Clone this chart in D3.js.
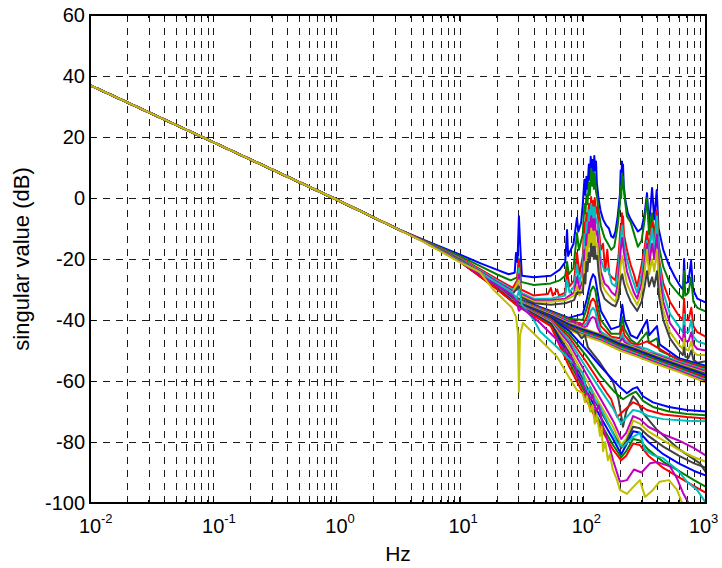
<!DOCTYPE html>
<html>
<head>
<meta charset="utf-8">
<script src="https://cdn.jsdelivr.net/npm/d3@7"></script>
<style>
  body { margin: 0; background: #fff; }
  text { font-family: "Liberation Sans", Arial, sans-serif; fill: #000; }
</style>
</head>
<body>
<svg id="chart" width="722" height="568"></svg>
<script>
// singular values (dB) vs frequency (Hz)
const trunk = [[0.01, 37], [0.1, 18.3], [1, -0.5], [3, -9.8]];

const sv01 = [[5,-13.6],[10,-18.5],[15,-21.5],[20,-23.5],[25,-25],[28,-24.5],[28.7,-18],[29.5,-21],[30.3,-6],[30.9,-14],[32,-25.5],[40,-26],[55,-25.5],[65,-23.5],[72,-21],[74.5,-10.5],[76,-19],[84,-15],[89.7,-6.5],[92,-11],[97,-8],[100,-2],[103,6],[105,1],[107,7],[109,3],[112,11],[114,6],[116,13.5],[118,8],[120,12.5],[122,7],[124,13.8],[126,9],[128,12],[130,5],[134,0],[139,-4],[146,-7],[155,-9],[163,-10],[170,-12.5],[177,-13],[184,-11],[192,-6],[200,1],[203,9],[205,4],[208,12],[210,7],[212,11],[215,4],[222,-1],[232,-5],[245,-7],[262,-9],[280,-11],[300,-10],[318,-5],[332,1.6],[345,-9],[365,3.3],[380,-7],[398,2.6],[412,-10],[450,-17],[500,-22],[560,-26],[620,-29],[652,-30],[664,-20],[676,-28],[720,-27.5],[757,-20.6],[785,-30],[850,-33],[1000,-34.3]];
const sv02 = [[5,-13.7],[10,-19],[15,-22.5],[20,-25],[26,-27],[29.3,-26],[30.3,-20],[31.5,-27.5],[40,-28.5],[55,-28],[65,-27],[72,-25.5],[74.5,-21],[77,-25],[84,-23],[89.7,-11.5],[93,-17],[100,-12],[103,-2],[105,-5],[107,1],[109,-2],[112,5],[114,1],[117,9.6],[119,4],[121,8.5],[123,3],[125,8],[128,2],[131,0],[133,-3],[140,-9],[150,-13],[160,-15],[170,-17],[180,-16],[192,-9],[200,-2],[203,4],[205,0],[208,8],[210,3],[212,7],[216,2],[228,-6],[245,-8],[262,-12],[280,-16],[300,-14],[318,-7],[332,0],[345,-12],[365,-5],[380,-13],[400,-4],[415,-16],[450,-22.6],[510,-28],[600,-31.5],[650,-33],[664,-24],[680,-32],[720,-31],[757,-26],[790,-34],[850,-36],[1000,-37.2]];
const sv03 = [[5,-13.8],[10,-19.5],[20,-26.5],[27,-29.5],[29.3,-27],[30.3,-20.5],[31.5,-30],[40,-32],[52,-31.5],[55,-29.5],[57,-32],[62,-30],[64,-32],[72,-31],[74.5,-24],[78,-29],[85,-27],[89.7,-18],[94,-25],[100,-19],[103,-8],[105,-12],[107,-5],[109,-9],[112,-2],[114,-6],[117,0.3],[119,-5],[121,-1],[123,-6],[125,0],[128,-5],[131,-3],[134,-9],[140,-17],[146,-15],[152,-24],[158,-17],[164,-25],[172,-26],[184,-27],[195,-19],[203,-9],[205,-12],[208,-5],[210,-9],[212,-6],[216,-12],[228,-17],[245,-22],[260,-25],[276,-29],[300,-22],[318,-16],[332,-11],[345,-17],[365,-8],[380,-15],[400,-4],[415,-20],[450,-28],[510,-34],[600,-38.5],[650,-40],[664,-33],[680,-40],[720,-40],[760,-36],[790,-42],[850,-44],[1000,-45.5]];
const sv04 = [[5,-13.9],[10,-19.7],[20,-27],[27,-30],[29.3,-29],[30.3,-23],[31.5,-31],[40,-33],[55,-33],[72,-32],[74.5,-27],[78,-31],[85,-29],[89.7,-22],[94,-28],[100,-23],[103,-12],[105,-15],[107,-8],[109,-12],[112,-4],[114,-8],[117,-2],[119,-7],[121,-3],[123,-8],[125,-3],[128,-8],[131,-7],[134,-12],[140,-20],[150,-24],[160,-23],[172,-28],[184,-29],[195,-23],[203,-13],[209,-9],[216,-15],[228,-20],[245,-25],[260,-28],[276,-31],[300,-25],[318,-18],[332,-14],[345,-19],[365,-10],[380,-17],[400,-6],[415,-21],[450,-31],[510,-38],[600,-42],[650,-44],[664,-38],[680,-44],[720,-44],[760,-40],[790,-45.5],[850,-47],[1000,-48]];
const sv05 = [[5,-13.9],[10,-19.9],[20,-27.5],[27,-30.5],[29.3,-30],[30.3,-25],[31.5,-31.5],[40,-33.5],[55,-33.5],[72,-33],[78,-32],[85,-31],[89.7,-26],[94,-30],[100,-27],[103,-17],[105,-20],[107,-12],[109,-16],[112,-8],[114,-12],[117,-6],[119,-11],[121,-7],[123,-12],[125,-7],[128,-12],[131,-11],[134,-16],[140,-24],[150,-28],[160,-29],[172,-31],[184,-32],[195,-27],[203,-17],[209,-13],[216,-18],[228,-24],[245,-28],[260,-31],[276,-33],[300,-28],[318,-21],[332,-15],[345,-22],[365,-15],[380,-20],[400,-12],[415,-24],[450,-34],[510,-41],[600,-45],[650,-47],[664,-42],[680,-47],[720,-47],[760,-44],[790,-48],[850,-49.5],[1000,-50]];
const sv06 = [[5,-14],[10,-20],[20,-28],[27,-31],[30.3,-27],[31.5,-32],[40,-34],[55,-34],[72,-33.5],[85,-32],[89.7,-29],[94,-32],[100,-29],[103,-21],[105,-24],[107,-16],[109,-19],[112,-12],[114,-16],[117,-10],[119,-15],[121,-11],[123,-16],[125,-11],[128,-16],[131,-15],[134,-20],[140,-27],[150,-30],[160,-31.5],[172,-33],[184,-34],[195,-30],[203,-22],[209,-19],[216,-23],[228,-28],[245,-31],[260,-33],[276,-35],[300,-31],[318,-24],[332,-17],[345,-25],[365,-20],[380,-24],[400,-17],[415,-28],[450,-37],[510,-44],[600,-48],[650,-49.5],[664,-46],[680,-49.5],[720,-50],[760,-47],[790,-50.5],[850,-51.5],[1000,-51.5]];
const sv07 = [[5,-14],[10,-20.1],[20,-28.3],[27,-31.3],[30.3,-29],[31.5,-32.5],[40,-34.5],[55,-35],[72,-34.5],[85,-33.5],[89.7,-31],[100,-31],[103,-25],[105,-28],[107,-21],[109,-24],[112,-18],[114,-21],[117,-15],[119,-19],[121,-16],[123,-20],[125,-16],[128,-20],[131,-19],[134,-24],[140,-30],[150,-33],[160,-34],[172,-35],[184,-35.5],[195,-33],[203,-27],[209,-25],[216,-28],[228,-31],[245,-34],[260,-35.5],[276,-37],[300,-34],[318,-29],[332,-24],[345,-29],[365,-26],[380,-29],[400,-24],[415,-32],[450,-40],[510,-46],[600,-50],[650,-51.5],[664,-49],[680,-52],[720,-52.5],[760,-50],[790,-53],[850,-54],[1000,-53.5]];
const sv08 = [[5,-14],[10,-20.2],[20,-28.5],[30,-33],[40,-35],[55,-37],[77,-39.3],[100,-38],[108,-33],[116,-27],[121,-25],[126,-26],[132,-31],[140,-37],[170,-43],[200,-42],[209,-35],[218,-40],[245,-45],[276,-46],[332,-40],[345,-45],[400,-42],[420,-48],[600,-52.5],[1000,-55]];
const sv09 = [[5,-14],[10,-20.2],[20,-28.6],[30,-33.2],[40,-35.2],[55,-37.25],[77,-39.6],[100,-40],[108,-36],[116,-30.5],[121,-29],[126,-30],[132,-35],[140,-40],[170,-44.5],[200,-44.5],[209,-39],[218,-43],[245,-46.5],[276,-48],[332,-44],[345,-47.5],[400,-46],[420,-50],[600,-52.9],[1000,-55.5]];
const sv10 = [[5,-14],[10,-20.3],[20,-28.7],[30,-33.4],[40,-35.4],[55,-37.5],[77,-40],[100,-41.5],[108,-39],[116,-34],[121,-33],[126,-34],[132,-38],[140,-42],[170,-45.5],[200,-46],[209,-42],[218,-45],[245,-47.5],[276,-48.3],[332,-47],[400,-49],[600,-53.2],[1000,-55.9]];
const sv11 = [[5,-14],[10,-20.3],[20,-28.8],[30,-33.6],[40,-35.6],[55,-37.75],[77,-40.3],[100,-42],[108,-41],[116,-37],[121,-36],[126,-37],[132,-40.5],[140,-43.8],[170,-46],[200,-47],[209,-44.5],[218,-46.5],[245,-48.2],[276,-48.6],[332,-49.5],[400,-51],[600,-53.6],[1000,-56.4]];
const sv12 = [[5,-14],[10,-20.4],[20,-28.9],[30,-33.8],[40,-35.8],[55,-38],[77,-40.6],[85,-40.5],[90,-42.5],[95,-41],[100,-42.6],[108,-42],[116,-39.5],[121,-39],[126,-39.5],[132,-42.5],[140,-44.5],[170,-46.5],[200,-47.2],[209,-46],[218,-47.2],[245,-48.6],[276,-49],[332,-50.5],[400,-51.5],[600,-54],[1000,-56.8]];
const sv13 = [[5,-14],[10,-20.4],[20,-29],[30,-34],[40,-36],[55,-38.25],[77,-41],[100,-42.7],[140,-44.7],[200,-47.4],[276,-49.4],[400,-51.9],[600,-54.4],[1000,-57.3]];
const sv14 = [[5,-14],[10,-20.5],[20,-29],[30,-34.2],[40,-36.2],[55,-38.5],[77,-41.3],[100,-43],[140,-45],[200,-47.7],[276,-49.7],[400,-52.2],[600,-54.7],[1000,-57.7]];
const sv15 = [[5,-14],[10,-20.5],[20,-29.1],[30,-34.5],[40,-36.5],[55,-38.75],[77,-41.6],[100,-43.3],[140,-45.3],[200,-48.1],[276,-50.1],[400,-52.6],[600,-55.1],[1000,-58.2]];
const sv16 = [[5,-14],[10,-20.6],[20,-29.1],[30,-34.7],[40,-36.7],[55,-39],[77,-42],[100,-43.7],[140,-45.7],[200,-48.5],[276,-50.5],[400,-53],[600,-55.5],[1000,-58.7]];
const sv17 = [[5,-14],[10,-20.6],[20,-29.2],[30,-34.9],[40,-36.9],[55,-39.25],[77,-42.3],[100,-44],[140,-46],[200,-48.9],[276,-50.9],[400,-53.4],[600,-55.9],[1000,-59.1]];
const sv18 = [[5,-14],[10,-20.7],[20,-29.2],[30,-35.1],[40,-37.1],[55,-39.5],[77,-42.6],[100,-44.3],[140,-46.3],[200,-49.2],[276,-51.2],[400,-53.7],[600,-56.2],[1000,-59.6]];
const sv19 = [[5,-14],[10,-20.7],[20,-29.3],[30,-35.3],[40,-37.3],[55,-39.75],[77,-43],[100,-44.7],[140,-46.7],[200,-49.6],[276,-51.6],[400,-54.1],[600,-56.6],[1000,-60]];
const sv20 = [[5,-14],[10,-20.8],[20,-29.4],[30,-35.5],[40,-37.5],[55,-40],[77,-43.3],[100,-45],[140,-47],[200,-50],[276,-52],[400,-54.5],[600,-57],[1000,-60.5]];
const sv21 = [[5,-14],[10,-20.3],[20,-28.8],[30,-34.6],[40,-36.6],[55,-39],[77,-42.5],[90,-44],[98,-46],[104,-45],[110,-49],[138,-54],[176,-60.4],[195,-66],[212,-75],[225,-70],[256,-65],[276,-66.5],[308,-70.5],[400,-76],[615,-82.6],[894,-87],[1000,-90]];
const sv22 = [[5,-14],[10,-20.4],[20,-28.9],[30,-34.7],[40,-36.8],[55,-39.3],[77,-43.5],[108,-50],[138,-55],[176,-59.7],[200,-62],[228,-64],[256,-62.5],[276,-62],[308,-65],[371,-67],[500,-68.5],[700,-69.5],[1000,-70]];
const sv23 = [[5,-14],[10,-20.4],[20,-29],[30,-34.8],[40,-37],[55,-39.6],[77,-44.5],[108,-52],[140,-58.5],[180,-63.5],[212,-66],[240,-64.5],[270,-63.5],[308,-66.5],[371,-68.5],[500,-70],[700,-70.8],[1000,-71.2]];
const sv24 = [[5,-14],[10,-20.5],[20,-29.1],[30,-34.9],[40,-37.2],[55,-39.9],[77,-45.5],[108,-54],[130,-59],[157,-64],[170,-66],[190,-71.8],[212,-70],[256,-67],[290,-68],[332,-69.5],[450,-71],[700,-71.8],[1000,-72.3]];
const sv25 = [[5,-14],[10,-20.5],[20,-29.2],[30,-35],[40,-37.4],[55,-40.2],[77,-46.5],[108,-56],[140,-63],[176,-69],[205,-74],[225,-72],[256,-69.5],[291,-70],[340,-71.5],[450,-72.5],[700,-73],[1000,-73.2]];
const sv26 = [[5,-14],[10,-20.6],[20,-29.3],[30,-35.1],[40,-37.6],[55,-40.5],[77,-47.5],[108,-58],[140,-66],[176,-73],[205,-79],[225,-77],[256,-71.5],[291,-72.5],[340,-75],[450,-77.5],[600,-79.5],[800,-82],[1000,-84.5]];
const sv27 = [[5,-14],[10,-20.6],[20,-29.4],[30,-35.2],[40,-37.8],[55,-40.8],[77,-49],[108,-60],[140,-68],[176,-75],[205,-81],[225,-79],[256,-73],[291,-74],[340,-76.5],[450,-79.5],[600,-82.5],[800,-85],[1000,-86.5]];
const sv28 = [[5,-14],[10,-20.7],[20,-29.5],[30,-35.3],[40,-38],[55,-41.1],[77,-50.5],[108,-62],[140,-70],[176,-77],[205,-82],[225,-80],[256,-75],[291,-75.5],[340,-78],[450,-81.5],[600,-84.5],[800,-87],[1000,-88.5]];
const sv29 = [[5,-14],[10,-20.7],[20,-29.6],[30,-35.4],[40,-38.2],[55,-41.4],[77,-52],[108,-63.5],[140,-72],[176,-79],[205,-84],[225,-81],[256,-76.5],[291,-77],[340,-80],[450,-84],[600,-87],[800,-89.5],[1000,-91]];
const sv30 = [[5,-14],[10,-20.8],[20,-29.7],[30,-35.5],[40,-38.4],[55,-41.7],[77,-53.5],[108,-65],[140,-74],[176,-81],[205,-85],[225,-83],[256,-79],[291,-79.5],[340,-82.5],[450,-86.5],[600,-89.5],[800,-92.5],[1000,-94.7]];
const sv31 = [[5,-14],[10,-20.8],[20,-29.8],[30,-35.6],[40,-38.6],[55,-42],[77,-55],[108,-66.5],[140,-75.5],[176,-82.5],[205,-86],[225,-84.5],[256,-80.5],[291,-81],[340,-84.5],[450,-88.5],[600,-91.5],[800,-94.5],[1000,-96.7]];
const sv32 = [[5,-14.1],[10,-20.6],[20,-27.8],[26.6,-31],[29,-33],[30.5,-30],[32,-35],[40,-40],[45,-43.8],[61,-48.7],[83,-54],[100,-57.4],[104,-61],[108,-64],[115,-62],[125,-66],[138,-68.5],[166,-75],[190,-80.3],[212,-81.6],[256,-78.3],[291,-77],[320,-82.6],[371,-84.3],[448,-85.3],[582,-89],[700,-93],[845,-95.7],[1000,-100]];
const sv33 = [[5,-14.1],[10,-20.8],[18.7,-28],[26.6,-31.8],[29,-34],[30.3,-37],[32,-36],[45,-41],[61.7,-46.5],[83,-53],[91,-58.7],[100,-61],[108,-64],[115,-66],[120,-64.5],[128,-70],[135,-68],[146,-75],[166,-82],[176,-86],[200,-93],[228,-92.5],[260,-89],[300,-90],[351,-87],[400,-86.6],[510,-88],[582,-92],[651,-96.7],[720,-100]];
const sv34 = [[5,-14.2],[10,-21],[14.6,-24.3],[18.7,-30],[26.6,-36],[28.7,-39],[29.7,-44],[30.3,-63.5],[30.9,-45],[32.7,-41],[45,-46.5],[61.7,-52],[77,-58.7],[89.7,-63],[100,-64],[104,-67],[108,-65],[115,-70],[120,-68],[125,-74],[130,-71],[138,-78],[142,-75],[146,-83],[152,-80],[160,-86],[166,-84],[175,-89],[190,-92.5],[200,-95.7],[228,-97],[256,-94.8],[291,-92.5],[320,-98],[371,-95.7],[420,-93],[500,-92.5],[582,-95.7],[640,-100]];

const singularValues = [sv01, sv02, sv03, sv04, sv05, sv06, sv07, sv08, sv09, sv10, sv11, sv12,
  sv13, sv14, sv15, sv16, sv17, sv18, sv19, sv20, sv21, sv22, sv23, sv24, sv25, sv26, sv27,
  sv28, sv29, sv30, sv31, sv32, sv33, sv34];

// MATLAB default line colour order
const lineColors = ['#0000ff', '#008000', '#ff0000', '#00bfbf', '#bf00bf', '#bfbf00', '#404040'];

const yTicks = [-100, -80, -60, -40, -20, 0, 20, 40, 60];
const xDecades = [-2, -1, 0, 1, 2, 3];

const svg = d3.select('#chart');
const margin = {top: 15, left: 90, right: 16, bottom: 65};
const width = 722 - margin.left - margin.right;
const height = 568 - margin.top - margin.bottom;

const x = d3.scaleLog().domain([1e-2, 1e3]).range([margin.left, margin.left + width]);
const y = d3.scaleLinear().domain([-100, 60]).range([margin.top + height, margin.top]);

svg.append('defs').append('clipPath').attr('id', 'plot-clip')
  .append('rect')
    .attr('x', margin.left).attr('y', margin.top)
    .attr('width', width).attr('height', height);

// grid: every log minor on x, every 20 dB on y
const minorX = [];
xDecades.slice(0, -1).forEach(d => {
  for (let k = 1; k <= 9; k++) minorX.push(k * Math.pow(10, d));
});
const gridX = minorX.filter(v => v > 1.0001e-2);
const grid = svg.append('g').attr('class', 'grid')
  .attr('stroke', '#1a1a1a').attr('stroke-width', 1).attr('stroke-dasharray', '7,6')
  .attr('shape-rendering', 'crispEdges');
grid.selectAll('line.gx').data(gridX).join('line')
  .attr('x1', d => Math.round(x(d)) + 0.5).attr('x2', d => Math.round(x(d)) + 0.5)
  .attr('y1', margin.top).attr('y2', margin.top + height);
grid.selectAll('line.gy').data(yTicks.slice(1, -1)).join('line')
  .attr('y1', d => Math.round(y(d)) + 0.5).attr('y2', d => Math.round(y(d)) + 0.5)
  .attr('x1', margin.left).attr('x2', margin.left + width);

// curves
const line = d3.line()
  .x(d => x(d[0]))
  .y(d => y(d[1]));
svg.append('g').attr('clip-path', 'url(#plot-clip)')
  .selectAll('path').data(singularValues).join('path')
    .attr('d', d => line(trunk.concat(d)))
    .attr('fill', 'none')
    .attr('stroke', (d, i) => lineColors[i % lineColors.length])
    .attr('stroke-width', 2)
    .attr('stroke-linejoin', 'round');

// axes box and ticks (inward, on all sides)
const axes = svg.append('g').attr('stroke', '#000').attr('shape-rendering', 'crispEdges');
axes.append('rect')
  .attr('x', margin.left).attr('y', margin.top)
  .attr('width', width).attr('height', height)
  .attr('fill', 'none').attr('stroke-width', 1.5);
xDecades.forEach(d => {
  const px = x(Math.pow(10, d));
  axes.append('line').attr('x1', px).attr('x2', px)
    .attr('y1', margin.top + height).attr('y2', margin.top + height - 6);
  axes.append('line').attr('x1', px).attr('x2', px)
    .attr('y1', margin.top).attr('y2', margin.top + 6);
});
gridX.filter(v => Math.abs(Math.log10(v) - Math.round(Math.log10(v))) > 1e-6)
  .forEach(v => {
    const px = x(v);
    axes.append('line').attr('x1', px).attr('x2', px)
      .attr('y1', margin.top + height).attr('y2', margin.top + height - 3);
    axes.append('line').attr('x1', px).attr('x2', px)
      .attr('y1', margin.top).attr('y2', margin.top + 3);
  });
yTicks.forEach(v => {
  axes.append('line').attr('x1', margin.left).attr('x2', margin.left + 6)
    .attr('y1', y(v)).attr('y2', y(v));
  axes.append('line').attr('x1', margin.left + width).attr('x2', margin.left + width - 6)
    .attr('y1', y(v)).attr('y2', y(v));
});

// tick labels
svg.append('g').selectAll('text').data(yTicks).join('text')
  .attr('x', margin.left - 5)
  .attr('y', d => y(d))
  .attr('dy', '0.36em')
  .attr('text-anchor', 'end')
  .attr('font-size', 20)
  .text(d => d);

// last decade label is nudged left so its exponent stays inside the figure
const xLab = svg.append('g').selectAll('g').data(xDecades).join('g')
  .attr('transform', d => `translate(${x(Math.pow(10, d)) - (d === 3 ? 6 : 0)},533)`);
xLab.append('text')
  .attr('text-anchor', 'middle')
  .attr('font-size', 20)
  .text('10');
xLab.append('text')
  .attr('x', 11)
  .attr('y', -10)
  .attr('font-size', 13)
  .text(d => d);

svg.append('text')
  .attr('x', margin.left + width / 2)
  .attr('y', 561)
  .attr('text-anchor', 'middle')
  .attr('font-size', 21)
  .text('Hz');

svg.append('text')
  .attr('transform', `translate(29,${margin.top + height / 2}) rotate(-90)`)
  .attr('text-anchor', 'middle')
  .attr('font-size', 22)
  .text('singular value (dB)');
</script>
</body>
</html>
